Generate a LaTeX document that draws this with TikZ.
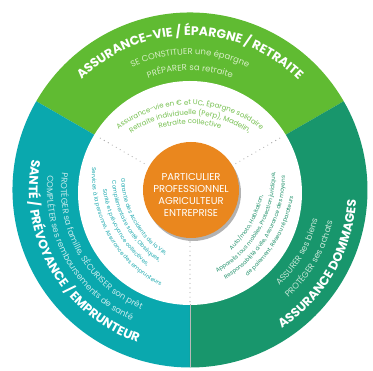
\documentclass[tikz,border=0pt]{standalone}
\usepackage{fontspec}
\setmainfont{Poppins}
\usetikzlibrary{decorations.text,shadows,calc}
\definecolor{cGreen}{RGB}{96,187,50}
\definecolor{cTeal}{RGB}{10,168,174}
\definecolor{cDark}{RGB}{24,150,108}
\definecolor{cOrange}{RGB}{234,135,30}
\definecolor{subGreen}{RGB}{214,238,196}
\definecolor{subTeal}{RGB}{196,234,236}
\definecolor{subDark}{RGB}{196,230,214}
\definecolor{inGreen}{RGB}{118,192,80}
\definecolor{inTeal}{RGB}{30,170,176}
\definecolor{inDark}{RGB}{34,146,108}
\newcommand\HdFont{\bfseries\fontsize{12.5}{12.5}\selectfont}
\newcommand\SbFont{\fontsize{8.5}{8.5}\selectfont}
\newcommand\InTopFont{\fontsize{7}{7}\selectfont}
\newcommand\InSideFont{\fontsize{5.6}{5.6}\selectfont}
\newcommand\ArcTxt[7]{\path[decorate,decoration={text along path,text align=center,text color=#5,text={|#6|#7}}] ($#1+(#3:#2)$) arc[start angle=#3,end angle=#4,radius=#2];}
\tikzset{
  sector/.style={draw=none},
  dotsep/.style={draw=gray!75,line width=1.1pt,line cap=round,dash pattern=on 0pt off 4.6pt},
  seam/.style={draw=gray!55,line width=0.4pt},
  core/.style={circle,fill=cOrange,minimum size=96pt,inner sep=0pt,
    drop shadow={shadow xshift=2pt,shadow yshift=-3pt,opacity=0.3,fill=black}},
  corelabel/.style={text=white,align=center,font=\fontsize{10}{11.7}\selectfont}
}
\begin{document}
\begin{tikzpicture}[x=1pt,y=1pt]
\useasboundingbox (-190pt,-181pt) rectangle (183pt,190pt);
% sectors
\fill[sector,cGreen] (0,0) -- (30:177.5pt) arc[start angle=30,end angle=150,radius=177.5pt] -- cycle;
\fill[sector,cTeal] (0,0) -- (150:177.5pt) arc[start angle=150,end angle=270,radius=177.5pt] -- cycle;
\fill[sector,cDark] (0,0) -- (270:177.5pt) arc[start angle=270,end angle=390,radius=177.5pt] -- cycle;
% white ring
\fill[white] (0pt,-3pt) circle[radius=112pt];
% dotted separators
\coordinate (s1a) at (150:53pt); \coordinate (s1b) at (150:106pt);
\coordinate (s2a) at (30:53pt);  \coordinate (s2b) at (30:108pt);
\coordinate (s3a) at (270:52pt); \coordinate (s3b) at (270:114pt);
\coordinate (s3c) at (270:177pt);
\draw[dotsep] (s1a) -- (s1b);
\draw[dotsep] (s2a) -- (s2b);
\draw[dotsep] (s3a) -- (s3b);
\draw[seam] (s3b) -- (s3c);
% center
\node[core] (core) at (1pt,0pt) {};
\node[corelabel] (corelbl) at (1pt,-5pt) {PARTICULIER\\PROFESSIONNEL\\AGRICULTEUR\\ENTREPRISE};
% headings
\ArcTxt{(0,0)}{154.5pt}{150}{30}{white}{\HdFont}{ASSURANCE-VIE / ÉPARGNE / RETRAITE}
\ArcTxt{(0,0)}{161pt}{150}{270}{white}{\HdFont}{SANTÉ / PRÉVOYANCE / EMPRUNTEUR}
\ArcTxt{(0,0)}{166.5pt}{270}{390}{white}{\HdFont}{ASSURANCE DOMMAGES}
% subtitles
\ArcTxt{(0,0)}{135.5pt}{150}{30}{subGreen}{\SbFont}{SE CONSTITUER une épargne}
\ArcTxt{(0,0)}{119.5pt}{150}{30}{subGreen}{\SbFont}{PRÉPARER sa retraite}
\ArcTxt{(0,0)}{129pt}{150}{270}{subTeal}{\SbFont}{PROTÉGER sa famille, SÉCURISER son prêt}
\ArcTxt{(0,0)}{143pt}{150}{270}{subTeal}{\SbFont}{COMPLÉTER ses remboursements de santé}
\ArcTxt{(0,0)}{131pt}{270}{390}{subDark}{\SbFont}{ASSURER ses biens}
\ArcTxt{(0,0)}{146pt}{270}{390}{subDark}{\SbFont}{PROTÉGER ses achats}
% inner texts top
\ArcTxt{(0pt,-30pt)}{115pt}{150}{30}{inGreen}{\InTopFont}{Assurance-vie en € et UC, Épargne solidaire}
\ArcTxt{(0pt,-30pt)}{105pt}{150}{30}{inGreen}{\InTopFont}{Retraite individuelle (Perp), Madelin,}
\ArcTxt{(0pt,-30pt)}{96pt}{150}{30}{inGreen}{\InTopFont}{Retraite collective}
% inner texts left
\ArcTxt{(26pt,15pt)}{95pt}{150}{270}{inTeal}{\InSideFont}{Garantie des Accidents de la Vie,}
\ArcTxt{(26pt,15pt)}{104pt}{150}{270}{inTeal}{\InSideFont}{Complémentaire santé, Obsèques,}
\ArcTxt{(26pt,15pt)}{114pt}{150}{270}{inTeal}{\InSideFont}{Santé et prévoyance collectives,}
\ArcTxt{(26pt,15pt)}{124pt}{150}{270}{inTeal}{\InSideFont}{Services à la personne, Assurance des emprunteurs}
% inner texts right
\ArcTxt{(-26pt,15pt)}{101pt}{270}{390}{inDark}{\InSideFont}{Auto/moto, Habitation,}
\ArcTxt{(-26pt,15pt)}{111pt}{270}{390}{inDark}{\InSideFont}{Appareils tous mobiles, Protection juridique,}
\ArcTxt{(-26pt,15pt)}{121pt}{270}{390}{inDark}{\InSideFont}{Responsabilité civile, Assurance des moyens}
\ArcTxt{(-26pt,15pt)}{131pt}{270}{390}{inDark}{\InSideFont}{de paiement, Réseau réparateurs}
\end{tikzpicture}
\end{document}
